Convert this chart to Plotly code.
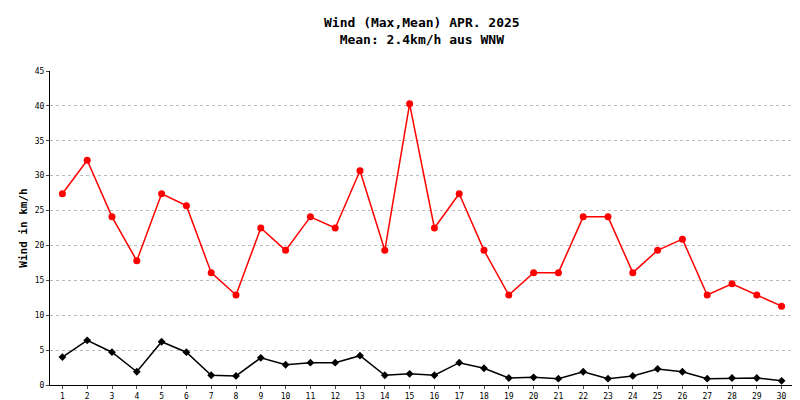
import plotly.graph_objects as go

days = [str(d) for d in range(1, 31)]
wind_max = [27.4, 32.2, 24.1, 17.8, 27.4, 25.7, 16.1, 12.9, 22.5, 19.3,
            24.1, 22.5, 30.7, 19.3, 40.3, 22.5, 27.4, 19.3, 12.9, 16.1,
            16.1, 24.1, 24.1, 16.1, 19.3, 20.9, 12.9, 14.5, 12.9, 11.3]
wind_mean = [4.0, 6.4, 4.7, 1.9, 6.2, 4.7, 1.4, 1.3, 3.9, 2.9,
             3.2, 3.2, 4.2, 1.4, 1.6, 1.4, 3.2, 2.4, 1.0, 1.1,
             0.9, 1.9, 0.9, 1.3, 2.3, 1.9, 0.9, 1.0, 1.0, 0.6]

fig = go.Figure()
fig.add_trace(go.Scatter(x=days, y=wind_max, name="Max", mode="lines+markers",
                         line=dict(color="#ff0000", width=1.5),
                         marker=dict(color="#ff0000", size=7, symbol="circle")))
fig.add_trace(go.Scatter(x=days, y=wind_mean, name="Mean", mode="lines+markers",
                         line=dict(color="#000000", width=1.5),
                         marker=dict(color="#000000", size=6, symbol="diamond")))

fig.update_layout(
    width=800, height=400,
    paper_bgcolor="white", plot_bgcolor="white",
    margin=dict(l=42, r=14, t=63, b=23, autoexpand=False),
    showlegend=False,
    font=dict(family="DejaVu Sans Mono", color="black"),
    xaxis=dict(type="category", range=[-0.5, 29.5], showgrid=False,
               showline=True, linecolor="black", ticks="outside", ticklen=3,
               tickfont=dict(size=8), automargin=False),
    yaxis=dict(range=[0, 45], dtick=5, showgrid=True, gridcolor="#bbbbbb",
               griddash="dot", showline=True, linecolor="black", ticks="outside",
               ticklen=3, tickfont=dict(size=8), zeroline=False, automargin=False,
               title=dict(text="<b>Wind in km/h</b>", font=dict(size=11), standoff=4)),
    annotations=[dict(text="<b>Wind (Max,Mean) APR. 2025<br>Mean: 2.4km/h aus WNW</b>",
                      xref="paper", yref="paper", x=0.5, y=1.0, yshift=58,
                      xanchor="center", yanchor="top", showarrow=False,
                      font=dict(size=13))],
)

fig.write_html("out.html")
